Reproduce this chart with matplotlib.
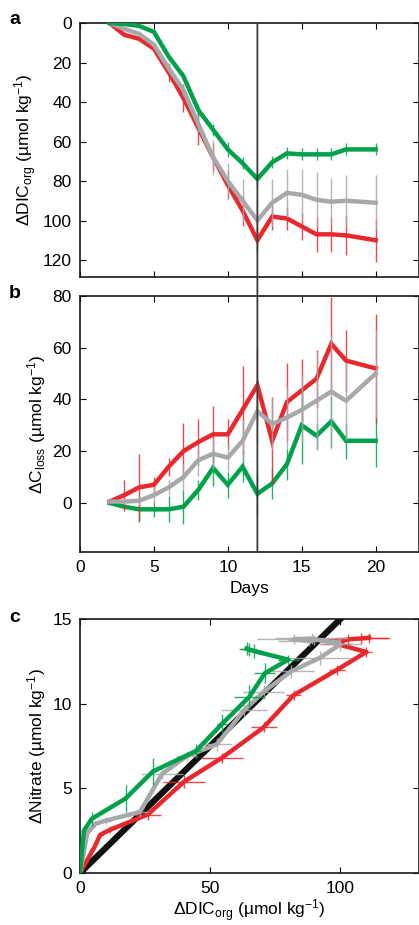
import matplotlib
matplotlib.use("Agg")
import matplotlib.pyplot as plt
from matplotlib.patches import ConnectionPatch

plt.rcParams['font.family'] = ['Liberation Sans', 'DejaVu Sans']
plt.rcParams['mathtext.default'] = 'regular'
plt.rcParams['font.size'] = 12.5

# colours of the three treatments
RED = '#e8282c'
GRAY = '#a7a8ab'
GREEN = '#00a14b'

# sampling days (no sample on day 19)
days = [2, 3, 4, 5, 6, 7, 8, 9, 10, 11, 12, 13, 14, 15, 16, 17, 18, 20]

# panel a: DIC_org
dic_green = [0, 0.5, 1.5, 4.5, 17, 27, 44, 54, 64, 71, 79, 70.5, 66, 66.5, 66.5, 66.5, 64, 64]
dic_gray = [0, 3, 5.5, 11, 23, 34, 51, 68, 80, 90, 100, 91, 86, 87, 89.5, 90.5, 90, 91]
dic_red = [0, 6, 8, 13, 25, 38, 53, 68, 82, 95, 110, 98, 99, 103, 107, 107, 107.5, 110]
dic_green_err = [0, 0, 0, 0, 0, 2, 3, 3, 4, 3, 3, 3, 3, 3, 3, 3, 3, 3]
dic_gray_err = [0, 0, 0, 0, 2, 3, 4, 9, 9, 11, 10, 12, 12, 13, 14, 12, 13, 14]
dic_red_err = [0, 0, 0, 0, 5, 7, 9, 7, 7, 8, 6, 7, 6, 7, 9, 9, 10, 11]

# panel b: C_loss
closs_red = [0.5, 3, 6, 7, 14, 20, 23.5, 26.5, 26.5, 36, 45.5, 24, 39, 43.5, 48, 61.5, 55, 52]
closs_gray = [0.5, 0.5, 0.8, 3, 6, 10, 16.5, 19, 17.5, 24, 35.5, 30.5, 33, 36, 39.5, 43, 39.5, 50]
closs_green = [0, -1.5, -2.5, -2.5, -2.5, -1.5, 5, 13.5, 7, 14, 3.5, 7.5, 15, 30, 26, 31.5, 24, 24]
closs_red_err = [0, 6, 13, 3, 3.5, 11, 9, 11, 6, 17, 14, 17, 15, 12, 11, 18, 12, 21]
closs_gray_err = [0, 1, 2, 3, 3, 5, 6, 6, 5, 8, 12, 10, 12, 13, 19, 22, 15, 17]
closs_green_err = [0, 1, 5, 3, 5, 6.5, 4, 7, 5, 6, 8, 6, 6, 15, 5, 10, 7, 10]

# panel c: nitrate vs DIC_org
c_green_x = [0, 1.5, 4.5, 17.5, 28, 44.5, 54.5, 65, 71, 80, 67, 65, 64]
c_green_y = [0, 2.5, 3.2, 4.4, 6.0, 7.2, 8.8, 10.4, 11.8, 12.6, 13.1, 13.2, 13.25]
c_green_xerr = [0, 0, 1, 1, 1, 2, 2, 6, 4, 4, 3, 3, 3]
c_green_yerr = [0, 0.3, 0.4, 0.8, 0.8, 0.4, 0.6, 0.7, 0.6, 0.3, 0.4, 0.4, 0.4]
c_gray_x = [0, 2.8, 5.8, 10, 23, 31.5, 41, 52.5, 63, 70.5, 81, 92, 100, 89, 82, 88, 90]
c_gray_y = [0, 2.35, 2.9, 3.1, 3.6, 5.85, 6.9, 7.6, 9.6, 10.7, 11.9, 12.7, 13.5, 13.85, 13.8, 13.7, 13.75]
c_gray_xerr = [0, 0, 1, 2, 3, 8, 4, 6, 9, 8, 9, 12, 8, 14, 14, 12, 10]
c_gray_yerr = [0, 0.2, 0.2, 0.2, 0.3, 0.3, 0.3, 0.4, 0.4, 0.4, 0.4, 0.4, 0.4, 0.3, 0.3, 0.3, 0.3]
c_red_x = [0, 5.8, 7.7, 11.5, 26, 40, 54.5, 70.5, 82, 98.7, 110, 98, 103, 108, 111]
c_red_y = [0, 1.6, 2.25, 2.55, 3.45, 5.4, 6.8, 8.6, 10.5, 12.0, 13.05, 13.55, 13.8, 13.85, 13.9]
c_red_xerr = [0, 0, 1, 1, 5, 8, 8, 5, 3, 3, 2, 6, 8, 10, 8]
c_red_yerr = [0, 0.2, 0.2, 0.2, 0.3, 0.4, 0.3, 0.3, 0.3, 0.3, 0.3, 0.3, 0.3, 0.3, 0.3]

# reference line
ref_x = [0, 100]
ref_y = [0, 15]

W, H = 419, 925
fig = plt.figure(figsize=(W / 100, H / 100), dpi=100)


def box(left, top, right, bottom):
    return [left / W, 1 - bottom / H, (right - left) / W, (bottom - top) / H]


ax_a = fig.add_axes(box(80, 23, 418.5, 277))
ax_b = fig.add_axes(box(80, 296, 418.5, 552))
ax_c = fig.add_axes(box(80, 619, 418.5, 873))

for ax in (ax_a, ax_b, ax_c):
    ax.tick_params(direction='in', length=4, width=0.8, top=True, right=True,
                   labelsize=12.5, pad=6)
    for s in ax.spines.values():
        s.set_linewidth(1.2)
        s.set_color('#1a1a1a')


def series(ax, x, y, err, color, z):
    ax.errorbar(x, y, yerr=err, fmt='none', ecolor=color, elinewidth=1.0,
                alpha=0.85, zorder=z)
    ax.plot(x, y, color=color, lw=3.2, solid_joinstyle='miter', zorder=z + 0.5)


# panel a
series(ax_a, days, dic_red, dic_red_err, RED, 2)
series(ax_a, days, dic_gray, dic_gray_err, GRAY, 3)
series(ax_a, days, dic_green, dic_green_err, GREEN, 4)
ax_a.set_xlim(0, 22.9)
ax_a.set_ylim(128.6, 0)
ax_a.set_xticks([0, 5, 10, 15, 20])
ax_a.set_xticklabels([])
ax_a.set_yticks([0, 20, 40, 60, 80, 100, 120])
ax_a.set_ylabel('ΔDIC$_{org}$ (µmol kg$^{-1}$)', labelpad=3)

# panel b
series(ax_b, days, closs_green, closs_green_err, GREEN, 2)
series(ax_b, days, closs_red, closs_red_err, RED, 3)
series(ax_b, days, closs_gray, closs_gray_err, GRAY, 4)
ax_b.set_xlim(0, 22.9)
ax_b.set_ylim(-19, 80)
ax_b.set_xticks([0, 5, 10, 15, 20])
ax_b.set_yticks([0, 20, 40, 60, 80])
ax_b.set_xlabel('Days', labelpad=4)
ax_b.set_ylabel('ΔC$_{loss}$ (µmol kg$^{-1}$)', labelpad=3)

# vertical line at day 12 through both panels
con = ConnectionPatch(xyA=(12, 0), coordsA=ax_a.transData,
                      xyB=(12, -19), coordsB=ax_b.transData,
                      color='#3a3a3a', lw=1.3, zorder=10)
fig.add_artist(con)

# panel c
ax_c.plot(ref_x, ref_y, color='#111111', lw=4.5, zorder=1)
for x, y, xe, ye, col, z in [
        (c_red_x, c_red_y, c_red_xerr, c_red_yerr, RED, 2),
        (c_gray_x, c_gray_y, c_gray_xerr, c_gray_yerr, GRAY, 3),
        (c_green_x, c_green_y, c_green_xerr, c_green_yerr, GREEN, 4)]:
    ax_c.errorbar(x, y, xerr=xe, yerr=ye, fmt='none', ecolor=col,
                  elinewidth=1.0, alpha=0.85, zorder=z)
    ax_c.plot(x, y, color=col, lw=3.2, zorder=z + 0.5)
ax_c.set_xlim(0, 130)
ax_c.set_ylim(0, 15)
ax_c.set_xticks([0, 50, 100])
ax_c.set_yticks([0, 5, 10, 15])
ax_c.set_xlabel('ΔDIC$_{org}$ (µmol kg$^{-1}$)', labelpad=1)
ax_c.set_ylabel('ΔNitrate (µmol kg$^{-1}$)', labelpad=3)

# panel letters
for lab, y in [('a', 20), ('b', 294), ('c', 618)]:
    fig.text(9 / W, 1 - y / H, lab, fontsize=14, fontweight='bold',
             va='center', ha='left')

fig.savefig('out.png', dpi=100)
